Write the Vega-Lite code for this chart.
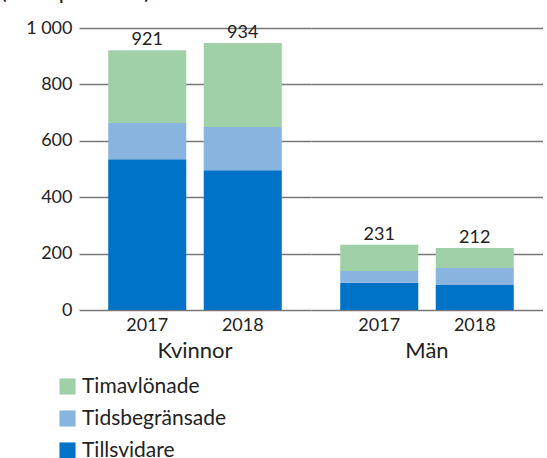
{
  "$schema": "https://vega.github.io/schema/vega-lite/v6.json",
  "padding": {"left": 0, "top": -19, "right": 0, "bottom": 5},
  "title": {"text": "(antal personer)", "anchor": "start", "fontSize": 22, "fontWeight": "normal", "font": "Lato", "color": "#222", "offset": 15, "dx": -25},
  "data": {
    "values": [
      {"group": "Kvinnor", "year": "2017", "category": "Tillsvidare", "value": 535, "total": 921},
      {"group": "Kvinnor", "year": "2017", "category": "Tidsbegränsade", "value": 128, "total": 921},
      {"group": "Kvinnor", "year": "2017", "category": "Timavlönade", "value": 258, "total": 921},
      {"group": "Kvinnor", "year": "2018", "category": "Tillsvidare", "value": 496, "total": 934},
      {"group": "Kvinnor", "year": "2018", "category": "Tidsbegränsade", "value": 153, "total": 934},
      {"group": "Kvinnor", "year": "2018", "category": "Timavlönade", "value": 298, "total": 934},
      {"group": "Män", "year": "2017", "category": "Tillsvidare", "value": 97, "total": 231},
      {"group": "Män", "year": "2017", "category": "Tidsbegränsade", "value": 41, "total": 231},
      {"group": "Män", "year": "2017", "category": "Timavlönade", "value": 93, "total": 231},
      {"group": "Män", "year": "2018", "category": "Tillsvidare", "value": 89, "total": 212},
      {"group": "Män", "year": "2018", "category": "Tidsbegränsade", "value": 60, "total": 212},
      {"group": "Män", "year": "2018", "category": "Timavlönade", "value": 71, "total": 212}
    ]
  },
  "facet": {
    "column": {
      "field": "group",
      "type": "nominal",
      "sort": ["Kvinnor", "Män"],
      "header": {"title": null, "labelOrient": "bottom", "labelFontSize": 22, "labelFont": "Lato", "labelColor": "#222", "labelPadding": 7}
    }
  },
  "spacing": 0,
  "spec": {
    "width": 232,
    "height": 282,
    "layer": [
      {
        "transform": [
          {"calculate": "indexof(['Tillsvidare','Tidsbegränsade','Timavlönade'], datum.category)", "as": "ord"}
        ],
        "mark": {"type": "bar"},
        "encoding": {
          "x": {
            "field": "year",
            "type": "nominal",
            "scale": {"paddingInner": 0.183, "paddingOuter": 0.306},
            "axis": {"title": null, "labelAngle": 0, "ticks": false, "domain": false, "labelFontSize": 18, "labelPadding": 6}
          },
          "y": {
            "field": "value",
            "type": "quantitative",
            "stack": "zero",
            "scale": {"domain": [0, 1000]},
            "axis": {
              "title": null,
              "values": [0, 200, 400, 600, 800, 1000],
              "format": ",d",
              "labelExpr": "replace(datum.label, ',', ' ')",
              "ticks": false,
              "domain": false,
              "labelPadding": 7,
              "labelFontSize": 18,
              "grid": true,
              "gridColor": "#777",
              "gridWidth": 1.5
            }
          },
          "color": {
            "field": "category",
            "type": "nominal",
            "scale": {
              "domain": ["Timavlönade", "Tidsbegränsade", "Tillsvidare"],
              "range": ["#9fd0a8", "#8ab4e0", "#0072c8"]
            },
            "legend": {
              "title": null,
              "orient": "none",
              "legendX": -22,
              "legendY": 348,
              "direction": "vertical",
              "symbolType": "square",
              "symbolSize": 260,
              "symbolStrokeWidth": 0,
              "labelFontSize": 21,
              "rowPadding": 10
            }
          },
          "order": {"field": "ord", "type": "quantitative"}
        }
      },
      {
        "transform": [
          {"joinaggregate": [{"op": "sum", "field": "value", "as": "top"}], "groupby": ["group", "year"]},
          {"filter": "datum.category === 'Timavlönade'"}
        ],
        "mark": {"type": "text", "baseline": "bottom", "dy": -1, "fontSize": 18},
        "encoding": {
          "x": {"field": "year", "type": "nominal"},
          "y": {"field": "top", "type": "quantitative"},
          "text": {"field": "total", "type": "quantitative"}
        }
      }
    ]
  },
  "config": {
    "font": "Lato",
    "view": {"stroke": null},
    "axis": {"labelColor": "#222", "labelFont": "Lato"},
    "legend": {"labelColor": "#222", "labelFont": "Lato"},
    "text": {"color": "#222"}
  }
}
